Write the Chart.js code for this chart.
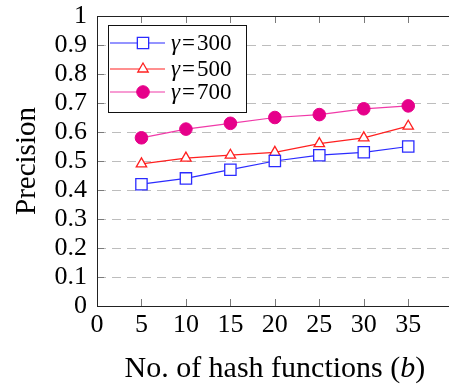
<!DOCTYPE html>
<html>
<head>
<meta charset="utf-8">
<script src="https://cdn.jsdelivr.net/npm/chart.js@4.4.0/dist/chart.umd.min.js"></script>
<style>
  html, body { margin: 0; padding: 0; background: #fff; overflow: hidden; }
  #wrap { position: relative; width: 462px; height: 390px; }
</style>
</head>
<body>
<div id="wrap"><canvas id="precisionChart"></canvas></div>
<script>
const hashCounts = [5, 10, 15, 20, 25, 30, 35];
const gamma300 = [0.42, 0.44, 0.47, 0.50, 0.52, 0.53, 0.55];
const gamma500 = [0.49, 0.51, 0.52, 0.53, 0.56, 0.58, 0.62];
const gamma700 = [0.58, 0.61, 0.63, 0.65, 0.66, 0.68, 0.69];
const seriesLabels = ['γ=300', 'γ=500', 'γ=700'];
const yTicks = [0, 0.1, 0.2, 0.3, 0.4, 0.5, 0.6, 0.7, 0.8, 0.9, 1];
const xTicks = [0, 5, 10, 15, 20, 25, 30, 35, 40];
const xTitle = ['No. of hash functions (', 'b', ')'];

const serif = '"Liberation Serif", "DejaVu Serif", serif';

function toPoints(values) {
    return hashCounts.map((x, i) => ({ x: x, y: values[i] }));
}

// dashed horizontal grid, drawn under the lines
const dashedGrid = {
    id: 'dashedGrid',
    beforeDatasetsDraw(chart) {
        const ctx = chart.ctx;
        const a = chart.chartArea;
        const ys = chart.scales.y;
        ctx.save();
        ctx.strokeStyle = '#bdbdbd';
        ctx.lineWidth = 1.2;
        ctx.setLineDash([9, 6]);
        yTicks.slice(1, -1).forEach(v => {
            const py = Math.round(ys.getPixelForValue(v)) + 0.5;
            ctx.beginPath();
            ctx.moveTo(a.left, py);
            ctx.lineTo(a.right, py);
            ctx.stroke();
        });
        ctx.restore();
    }
};

// inward tick marks on left, top and bottom, the frame, and the x title with italic b
const tickMarks = {
    id: 'tickMarks',
    afterDraw(chart) {
        const ctx = chart.ctx;
        const a = chart.chartArea;
        const xs = chart.scales.x, ys = chart.scales.y;
        ctx.save();
        ctx.strokeStyle = '#7a7a7a';
        ctx.lineWidth = 1;
        ctx.beginPath();
        xTicks.forEach(v => {
            const px = Math.round(xs.getPixelForValue(v)) + 0.5;
            ctx.moveTo(px, a.bottom); ctx.lineTo(px, a.bottom - 7);
            ctx.moveTo(px, a.top); ctx.lineTo(px, a.top + 7);
        });
        yTicks.forEach(v => {
            const py = Math.round(ys.getPixelForValue(v)) + 0.5;
            ctx.moveTo(a.left, py); ctx.lineTo(a.left + 7, py);
        });
        ctx.stroke();
        ctx.strokeStyle = '#222';
        ctx.strokeRect(a.left + 0.5, a.top + 0.5, a.right - a.left, a.bottom - a.top);

        // x axis title
        const fonts = ['30px ' + serif, 'italic 30px ' + serif, '30px ' + serif];
        let total = 0;
        const widths = xTitle.map((t, i) => { ctx.font = fonts[i]; const w = ctx.measureText(t).width; total += w; return w; });
        let tx = (a.left + a.right) / 2 - total / 2;
        ctx.fillStyle = '#000';
        ctx.textBaseline = 'middle';
        xTitle.forEach((t, i) => {
            ctx.font = fonts[i];
            ctx.fillText(t, tx, 369);
            tx += widths[i];
        });
        ctx.restore();
    }
};

// boxed legend inside the plot, top left
const boxLegend = {
    id: 'boxLegend',
    afterDraw(chart) {
        const ctx = chart.ctx;
        const a = chart.chartArea;
        const bx = a.left + 11, by = a.top + 9, bw = 138, bh = 87;
        const rows = [18, 44, 67];
        ctx.save();
        ctx.fillStyle = '#fff';
        ctx.fillRect(bx, by, bw, bh);
        ctx.strokeStyle = '#111';
        ctx.lineWidth = 1;
        ctx.strokeRect(bx + 0.5, by + 0.5, bw, bh);
        chart.data.datasets.forEach((ds, i) => {
            const cy = by + rows[i];
            ctx.strokeStyle = ds.borderColor;
            ctx.lineWidth = ds.borderWidth;
            ctx.beginPath();
            ctx.moveTo(bx + 2, cy); ctx.lineTo(bx + 57, cy);
            ctx.stroke();
            ctx.fillStyle = ds.pointBackgroundColor;
            ctx.strokeStyle = ds.pointBorderColor;
            ctx.lineWidth = ds.pointBorderWidth;
            Chart.helpers.drawPoint(ctx, { pointStyle: ds.pointStyle, radius: ds.pointRadius, borderWidth: ds.pointBorderWidth, rotation: 0 }, bx + 35, cy);
            ctx.fillStyle = '#000';
            ctx.textBaseline = 'middle';
            let tx = bx + 63;
            ctx.font = 'italic 23px ' + serif;
            ctx.fillText('γ', tx, cy + 1);
            tx += ctx.measureText('γ').width + 2;
            ctx.font = '23px ' + serif;
            ctx.fillText('=', tx, cy + 1);
            tx += ctx.measureText('=').width + 2;
            ctx.fillText(ds.label.slice(2), tx, cy + 1);
        });
        ctx.restore();
    }
};

const ctx = document.getElementById('precisionChart').getContext('2d');
new Chart(ctx, {
    type: 'line',
    data: {
        datasets: [{
            label: seriesLabels[0],
            data: toPoints(gamma300),
            borderColor: '#2b2bff',
            borderWidth: 1.2,
            pointStyle: 'rect',
            pointRadius: 8,
            pointBorderWidth: 1.3,
            pointBorderColor: '#2b2bff',
            pointBackgroundColor: '#fff'
        }, {
            label: seriesLabels[1],
            data: toPoints(gamma500),
            borderColor: '#ff2020',
            borderWidth: 1.2,
            pointStyle: 'triangle',
            pointRadius: 6,
            pointBorderWidth: 1.3,
            pointBorderColor: '#ff2020',
            pointBackgroundColor: '#fff'
        }, {
            label: seriesLabels[2],
            data: toPoints(gamma700),
            borderColor: '#f03aa8',
            borderWidth: 1.2,
            pointStyle: 'circle',
            pointRadius: 6.3,
            pointBorderWidth: 1,
            pointBorderColor: '#e6008a',
            pointBackgroundColor: '#e6008a'
        }]
    },
    options: {
        responsive: true,
        maintainAspectRatio: false,
        animation: false,
        layout: { padding: { top: 16, right: 8, left: 0, bottom: 0 } },
        plugins: {
            legend: { display: false },
            tooltip: { enabled: false }
        },
        scales: {
            x: {
                type: 'linear',
                min: 0,
                max: 40,
                afterBuildTicks: s => { s.ticks = xTicks.map(v => ({ value: v })); },
                afterFit: s => { s.height = 84; s.paddingLeft = 0; s.paddingRight = 0; },
                grid: { display: false, drawTicks: false },
                border: { display: false },
                ticks: {
                    color: '#000',
                    padding: 4,
                    maxRotation: 0,
                    autoSkip: false,
                    font: { family: serif, size: 26 },
                    callback: v => (v === 40 ? '' : String(v))
                },
                title: { display: false }
            },
            y: {
                min: 0,
                max: 1,
                afterBuildTicks: s => { s.ticks = yTicks.map(v => ({ value: v })); },
                afterFit: s => { s.width = 97; s.paddingTop = 0; s.paddingBottom = 0; },
                grid: { display: false, drawTicks: false },
                border: { display: false },
                ticks: {
                    color: '#000',
                    padding: 10,
                    autoSkip: false,
                    font: { family: serif, size: 26 },
                    callback: v => String(v)
                },
                title: {
                    display: true,
                    text: 'Precision',
                    color: '#000',
                    font: { family: serif, size: 29 },
                    padding: { top: 10, bottom: 4 }
                }
            }
        }
    },
    plugins: [dashedGrid, tickMarks, boxLegend]
});
</script>
</body>
</html>
